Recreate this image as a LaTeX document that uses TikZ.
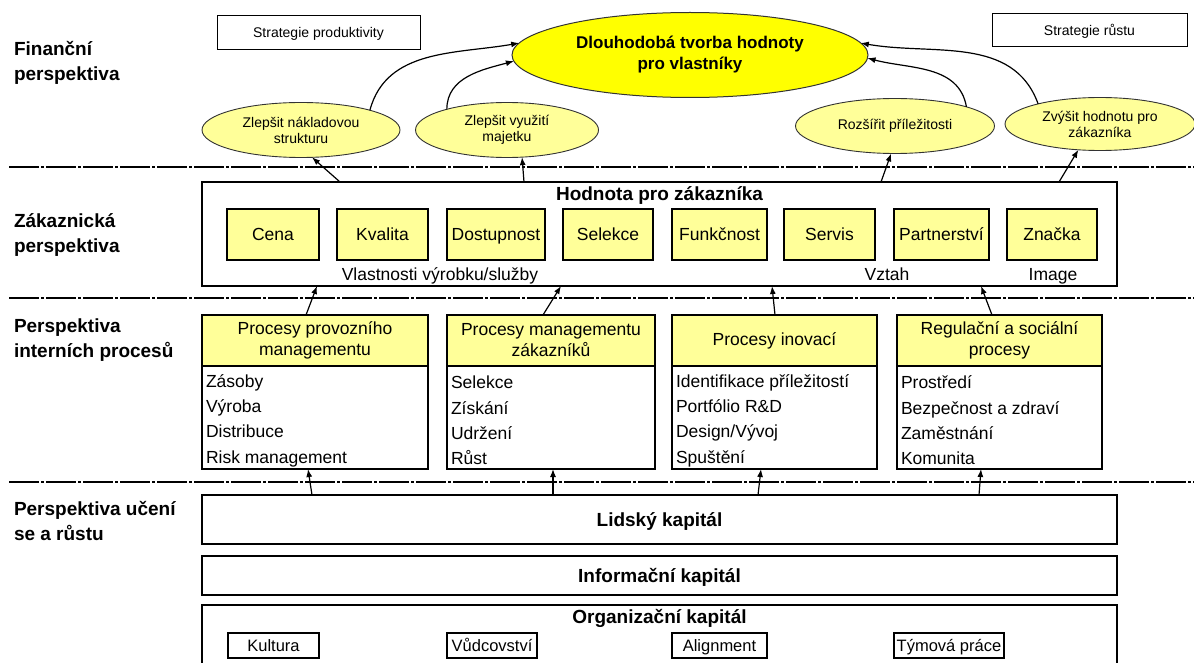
\documentclass[tikz,border=0pt]{standalone}
\usepackage{fontspec}
\setmainfont{Liberation Sans}
\usetikzlibrary{arrows.meta,shapes.geometric,calc}
\definecolor{lyellow}{HTML}{FFFF99}
\definecolor{byellow}{HTML}{FFFF00}

\begin{document}
\begin{tikzpicture}[x=1pt,y=-1pt,
  every node/.style={inner sep=0pt, outer sep=0pt},
  sidelabel/.style={anchor=west, align=left, font=\fontsize{19}{25}\selectfont\bfseries},
  stratbox/.style={draw, line width=1pt, font=\fontsize{14}{16}\selectfont, text height=11pt, text depth=1pt},
  goal/.style={ellipse, draw=black!80, line width=1pt, fill=byellow, align=center, font=\fontsize{17}{21}\selectfont\bfseries},
  tgt/.style={ellipse, draw=black!80, line width=0.9pt, fill=lyellow, align=center, font=\fontsize{14}{16}\selectfont},
  outerbox/.style={draw, line width=2.5pt},
  attr/.style={draw, line width=2.5pt, fill=lyellow, minimum height=51, font=\fontsize{17.5}{20}\selectfont, text height=13.5pt, text depth=1pt},
  plaintext/.style={font=\fontsize{17.5}{20}\selectfont, text height=13.5pt, text depth=1pt},
  heading/.style={font=\fontsize{19}{22}\selectfont\bfseries, text height=14.6pt, text depth=1pt},
  phead/.style={draw, line width=2.5pt, fill=lyellow, minimum height=51, align=center, font=\fontsize{17.5}{21}\selectfont},
  pbody/.style={draw, line width=2.5pt, minimum height=103},
  plist/.style={anchor=west, align=left, font=\fontsize{17.5}{25.4}\selectfont},
  capbox/.style={draw, line width=2pt, fill=white, minimum height=25, font=\fontsize{16.5}{18}\selectfont, text height=13pt, text depth=1.2pt},
  divider/.style={line width=2pt, dash pattern=on 30pt off 2pt on 3pt off 2pt},
  arr/.style={line width=1.2pt, -{Latex[length=8pt,width=6pt]}},
]
\useasboundingbox (0,0) rectangle (1194,663);
\fill[white] (0,0) rectangle (1194,663);

% perspective dividers
\draw[divider] (9,167) -- (1194,167);
\draw[divider] (9,298) -- (1194,298);
\draw[divider] (9,482) -- (1194,482);

% side labels
\node[sidelabel] (lfin) at (14,62.5) {Finanční\\perspektiva};
\node[sidelabel] (lcus) at (14,235.5) {Zákaznická\\perspektiva};
\node[sidelabel] (lint) at (14,340) {Perspektiva\\interních procesů};
\node[sidelabel] (llrn) at (14,520.5) {Perspektiva učení\\se a růstu};

% financial perspective
\node[stratbox, minimum width=203, minimum height=34] (sprod) at (318.5,33) {Strategie produktivity};
\node[stratbox, minimum width=195, minimum height=33] (sgrow) at (1089.5,30.5) {Strategie růstu};
\node[goal, minimum width=356, minimum height=85] (big) at (690,55) {Dlouhodobá tvorba hodnoty\\pro vlastníky};
\node[tgt, minimum width=198, minimum height=55] (e1) at (301,130) {Zlepšit nákladovou\\strukturu};
\node[tgt, minimum width=183, minimum height=55] (e2) at (507,130) {Zlepšit využití\\majetku};
\node[tgt, minimum width=199, minimum height=55] (e3) at (895,126) {Rozšířit příležitosti};
\node[tgt, minimum width=190, minimum height=53] (e4) at (1100,124) {Zvýšit hodnotu pro\\zákazníka};

\draw[arr] (e1.16) to[out=75, in=190] (big.176);
\draw[arr] (e2.161) to[out=90, in=195] (big.182);
\draw[arr] (e3.15) to[out=100, in=-15] (big.-1.5);
\draw[arr] (e4.162) to[out=110, in=-10] (big.4);

% customer perspective
\node[outerbox, minimum width=915, minimum height=104] (hv) at (659.5,234) {};
\node[heading] (hvt) at (659.5,194) {Hodnota pro zákazníka};
\node[attr, minimum width=92] (a1) at (273,234.5) {Cena};
\node[attr, minimum width=91] (a2) at (382.5,234.5) {Kvalita};
\node[attr, minimum width=98] (a3) at (496,234.5) {Dostupnost};
\node[attr, minimum width=90] (a4) at (608,234.5) {Selekce};
\node[attr, minimum width=95] (a5) at (719.5,234.5) {Funkčnost};
\node[attr, minimum width=91] (a6) at (829.5,234.5) {Servis};
\node[attr, minimum width=95] (a7) at (941.5,234.5) {Partnerství};
\node[attr, minimum width=90] (a8) at (1052,234.5) {Značka};
\node[plaintext] (g1) at (440,274) {Vlastnosti výrobku/služby};
\node[plaintext] (g2) at (887,274) {Vztah};
\node[plaintext] (g3) at (1053,274) {Image};

\draw[arr] ($(hv.north west)+(138,0)$) -- (e1.-68);
\draw[arr] ($(hv.north west)+(322,0)$) -- (e2.-61);
\draw[arr] ($(hv.north west)+(679,0)$) -- (e3.-98);
\draw[arr] ($(hv.north west)+(857,0)$) -- (e4.-130);

% internal process perspective
\node[phead, minimum width=226] (p1h) at (315,340.5) {Procesy provozního\\managementu};
\node[pbody, minimum width=226, anchor=north] (p1b) at (p1h.south) {};
\node[phead, minimum width=208] (p2h) at (551,340.5) {Procesy managementu\\zákazníků};
\node[pbody, minimum width=208, anchor=north] (p2b) at (p2h.south) {};
\node[phead, minimum width=205] (p3h) at (774.5,340.5) {Procesy inovací};
\node[pbody, minimum width=205, anchor=north] (p3b) at (p3h.south) {};
\node[phead, minimum width=205] (p4h) at (999.5,340.5) {Regulační a sociální\\procesy};
\node[pbody, minimum width=205, anchor=north] (p4b) at (p4h.south) {};

\node[plist] (i1) at ($(p1b.west)+(4,3)$) {Zásoby\\Výroba\\Distribuce\\Risk management};
\node[plist] (i2) at ($(p2b.west)+(4,3)$) {Selekce\\Získání\\Udržení\\Růst};
\node[plist] (i3) at ($(p3b.west)+(4,3)$) {Identifikace příležitostí\\Portfólio R\&D\\Design/Vývoj\\Spuštění};
\node[plist] (i4) at ($(p4b.west)+(4,3)$) {Prostředí\\Bezpečnost a zdraví\\Zaměstnání\\Komunita};

\draw[arr] ($(p1h.north west)+(104,0)$) -- ($(hv.south west)+(115,0)$);
\draw[arr] ($(p2h.north west)+(96,0)$) -- ($(hv.south west)+(359,0)$);
\draw[arr] ($(p3h.north west)+(103,0)$) -- ($(hv.south west)+(570,0)$);
\draw[arr] ($(p4h.north west)+(95,0)$) -- ($(hv.south west)+(779,0)$);

% learning and growth perspective
\node[outerbox, minimum width=915, minimum height=49] (lk) at (659.5,519.5) {};
\node[heading] (lkt) at (659.5,520) {Lidský kapitál};
\node[outerbox, minimum width=915, minimum height=39] (ik) at (659.5,575.5) {};
\node[heading] (ikt) at (659.5,575.5) {Informační kapitál};
\node[outerbox, minimum width=915, minimum height=80] (ok) at (659.5,645) {};
\node[heading] (okt) at (659.5,617) {Organizační kapitál};
\node[capbox, minimum width=91] (c1) at (273.5,645.5) {Kultura};
\node[capbox, minimum width=90] (c2) at (492,645.5) {Vůdcovství};
\node[capbox, minimum width=95] (c3) at (719.5,645.5) {Alignment};
\node[capbox, minimum width=110] (c4) at (949,645.5) {Týmová práce};

\draw[arr] ($(lk.north west)+(110,0)$) -- ($(p1b.south west)+(106,0)$);
\draw[arr] ($(lk.north west)+(351,0)$) -- ($(p2b.south west)+(106,0)$);
\draw[arr] ($(lk.north west)+(556,0)$) -- ($(p3b.south west)+(89,0)$);
\draw[arr] ($(lk.north west)+(777,0)$) -- ($(p4b.south west)+(84,0)$);
\end{tikzpicture}
\end{document}
